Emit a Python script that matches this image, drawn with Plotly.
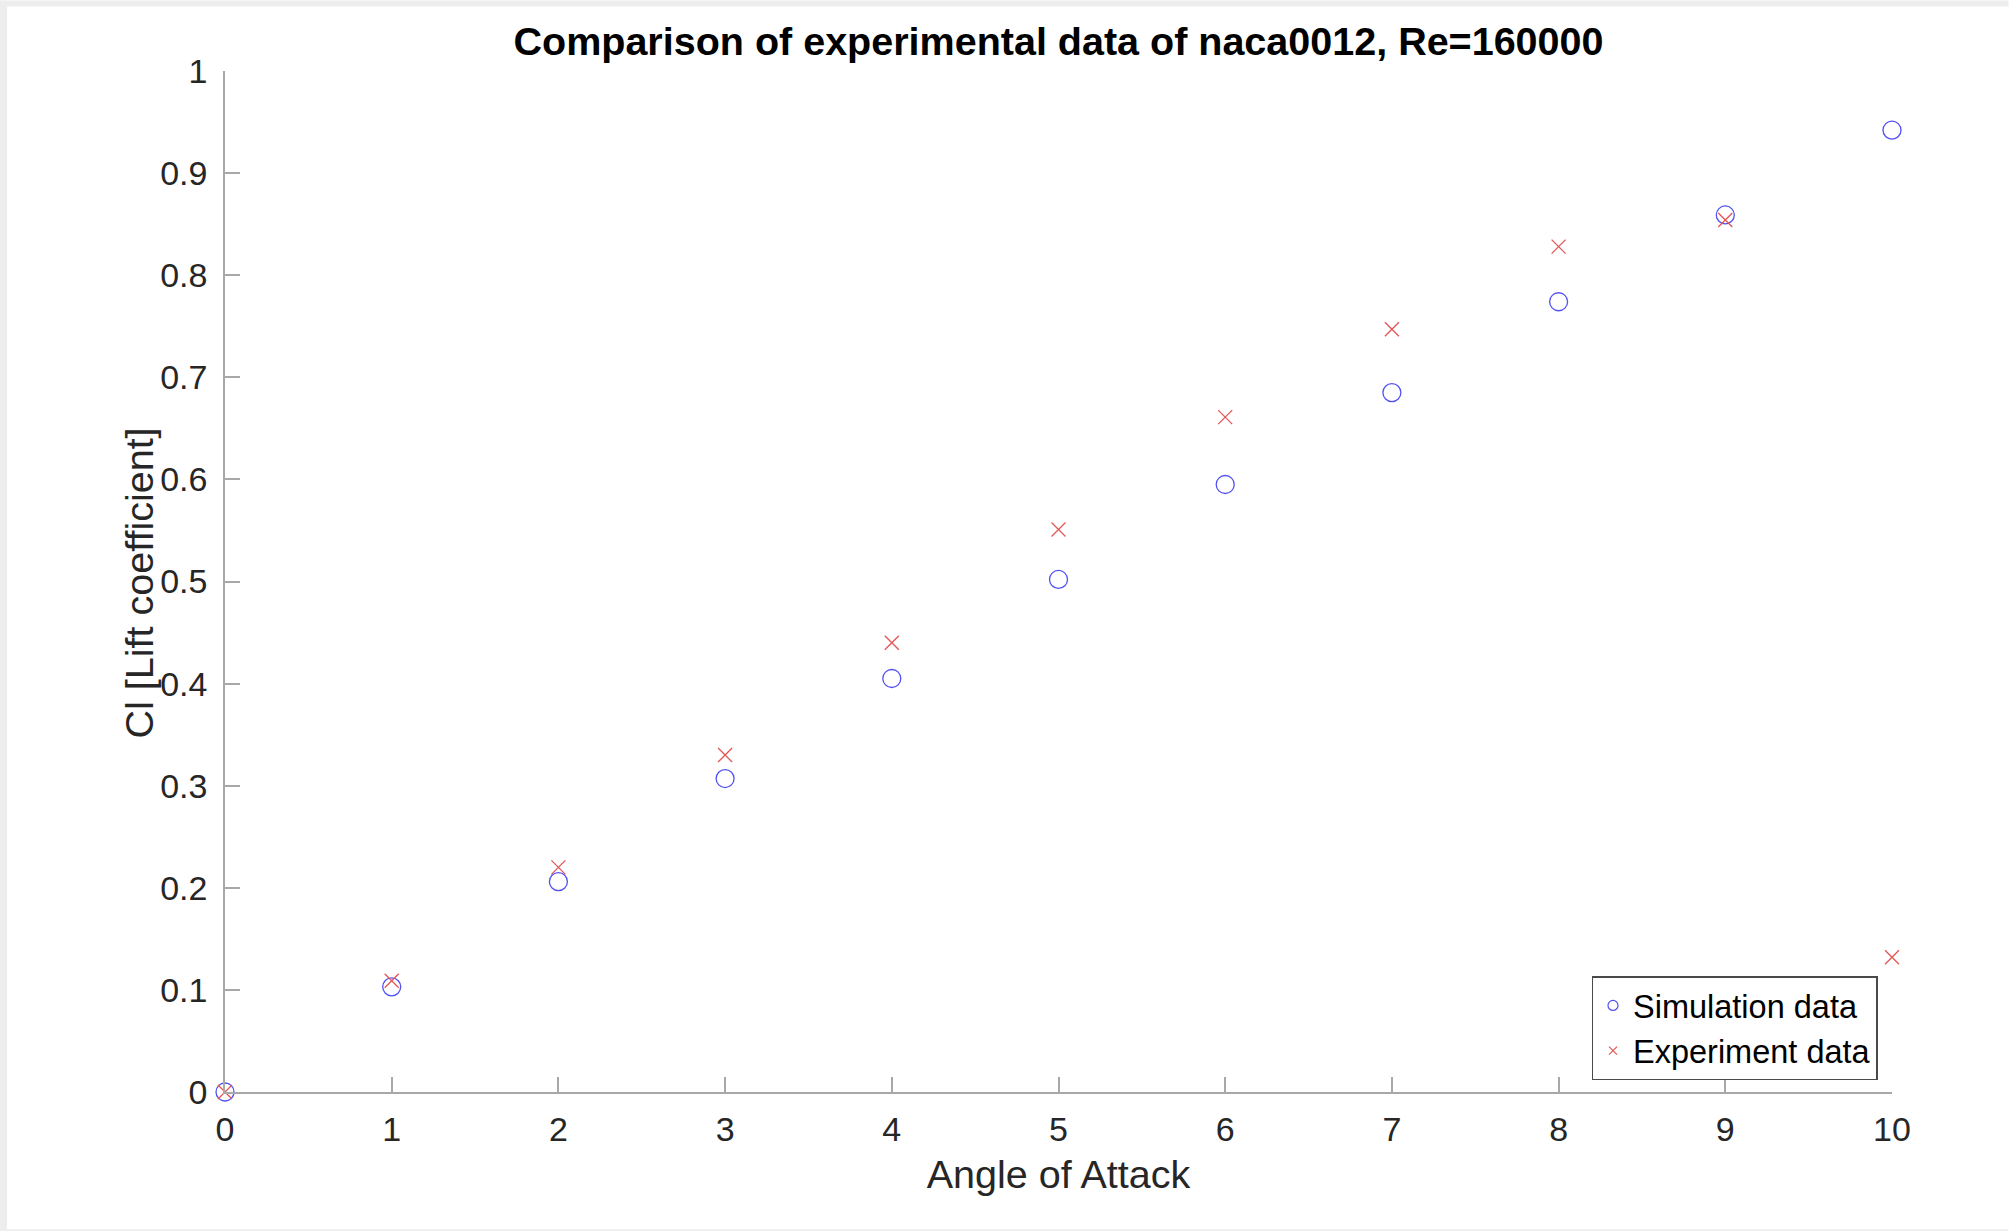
import plotly.graph_objects as go

W, H = 2009, 1231
L, R, T, B = 225, 116.5, 70.5, 139.3

angle = [0, 1, 2, 3, 4, 5, 6, 7, 8, 9, 10]
cl_simulation = [0.0, 0.103, 0.206, 0.307, 0.405, 0.502, 0.595, 0.685, 0.774, 0.859, 0.942]
cl_experiment = [0.0, 0.109, 0.220, 0.330, 0.440, 0.551, 0.661, 0.747, 0.828, 0.854, 0.132]
x_ticks = [0, 1, 2, 3, 4, 5, 6, 7, 8, 9, 10]
y_ticks = [0, 0.1, 0.2, 0.3, 0.4, 0.5, 0.6, 0.7, 0.8, 0.9, 1]
y_tick_labels = ["0", "0.1", "0.2", "0.3", "0.4", "0.5", "0.6", "0.7", "0.8", "0.9", "1"]

FONT = "Liberation Sans, Arial, sans-serif"
AX = "#a8a8a8"
TXT = "#262626"
BLUE = "rgb(80,80,245)"
RED = "rgb(228,85,85)"

fig = go.Figure()
fig.add_trace(go.Scatter(
    x=angle, y=cl_simulation, mode="markers", name="Simulation data", showlegend=False,
    marker=dict(symbol="circle-open", size=18, color=BLUE, line=dict(width=1.3, color=BLUE)),
    cliponaxis=False,
))
fig.add_trace(go.Scatter(
    x=angle, y=cl_experiment, mode="markers", name="Experiment data", showlegend=False,
    marker=dict(symbol="x-thin-open", size=14, color=RED, line=dict(width=1.3, color=RED)),
    cliponaxis=False,
))
# legend entries (MATLAB draws smaller legend markers)
fig.add_trace(go.Scatter(
    x=[None], y=[None], mode="markers", name="Simulation data",
    marker=dict(symbol="circle-open", size=10, color=BLUE, line=dict(width=1.2, color=BLUE)),
))
fig.add_trace(go.Scatter(
    x=[None], y=[None], mode="markers", name="Experiment data",
    marker=dict(symbol="x-thin-open", size=8, color=RED, line=dict(width=1.2, color=RED)),
))

pw = W - L - R
ph = H - T - B
def px_x(p):
    return (p - L) / pw
def px_y(p):
    return (H - B - p) / ph

fig.update_layout(
    width=W, height=H,
    margin=dict(l=L, r=R, t=T, b=B, autoexpand=False),
    paper_bgcolor="white", plot_bgcolor="white",
    font=dict(family=FONT, color=TXT, size=34),
    title=dict(text="<b>Comparison of experimental data of naca0012, Re=160000</b>",
               x=0.5, xref="paper", xanchor="center",
               y=1 - 41 / H, yref="container", yanchor="middle",
               font=dict(family=FONT, size=39.5, color="black")),
    showlegend=True,
    legend=dict(x=px_x(1878), y=px_y(1080),
                xanchor="right", yanchor="bottom",
                bordercolor="#4a4a4a", borderwidth=1.5, bgcolor="white",
                font=dict(family=FONT, size=32.5, color="black"),
                itemsizing="trace", tracegroupgap=0),
    xaxis=dict(range=[0, 10], tickvals=x_ticks, ticktext=[str(v) for v in x_ticks],
               showgrid=False, zeroline=False, showline=True, linecolor=AX, linewidth=1.5,
               ticks="inside", ticklen=15, tickwidth=1.5, tickcolor=AX,
               tickfont=dict(size=34, color=TXT), ticklabelstandoff=6,
               title=dict(text="Angle of Attack", font=dict(size=39.5, color=TXT), standoff=14),
               mirror=False, fixedrange=True),
    yaxis=dict(range=[0, 1], tickvals=y_ticks, ticktext=y_tick_labels,
               showgrid=False, zeroline=False, showline=True, linecolor=AX, linewidth=1.5,
               ticks="inside", ticklen=15, tickwidth=1.5, tickcolor=AX,
               tickfont=dict(size=34, color=TXT), ticklabelstandoff=9,
               mirror=False, fixedrange=True),
    annotations=[dict(text="Cl [Lift coefficient]", textangle=-90, showarrow=False,
                      xref="paper", yref="paper", x=px_x(139), y=px_y(583),
                      xanchor="center", yanchor="middle",
                      font=dict(family=FONT, size=39.5, color=TXT))],
)

# window frame strips (light gray) around the figure
fig.add_shape(type="rect", xref="paper", yref="paper", x0=px_x(0), x1=px_x(W), y0=px_y(6), y1=px_y(0),
              fillcolor="#ededed", line=dict(width=0), layer="below")
fig.add_shape(type="rect", xref="paper", yref="paper", x0=px_x(0), x1=px_x(7), y0=px_y(H), y1=px_y(0),
              fillcolor="#ededed", line=dict(width=0), layer="below")
fig.add_shape(type="rect", xref="paper", yref="paper", x0=px_x(0), x1=px_x(W), y0=px_y(H), y1=px_y(1229),
              fillcolor="#ededed", line=dict(width=0), layer="below")

fig.write_html("out.html")
